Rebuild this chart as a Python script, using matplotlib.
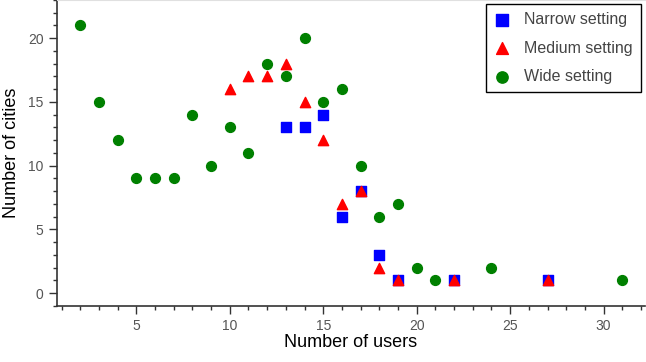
import matplotlib.pyplot as plt
from matplotlib.ticker import MultipleLocator

plt.rcParams['font.family'] = ['Liberation Sans', 'DejaVu Sans']

narrow_x = [13, 14, 15, 16, 17, 18, 19, 22, 27]
narrow_y = [13, 13, 14, 6, 8, 3, 1, 1, 1]

medium_x = [10, 11, 12, 13, 14, 15, 16, 17, 18, 19, 22, 27]
medium_y = [16, 17, 17, 18, 15, 12, 7, 8, 2, 1, 1, 1]

wide_x = [2, 3, 4, 5, 6, 7, 8, 9, 10, 11, 12, 13, 14, 15, 16, 17, 18, 19, 20, 21, 24, 31]
wide_y = [21, 15, 12, 9, 9, 9, 14, 10, 13, 11, 18, 17, 20, 15, 16, 10, 6, 7, 2, 1, 2, 1]


def main():
    fig = plt.figure(figsize=(6.46, 3.62), dpi=100)
    ax = fig.add_axes([0.088, 0.155, 0.91, 0.845])

    ax.scatter(narrow_x, narrow_y, marker='s', s=55, color='#0000ff', label='Narrow setting', zorder=3)
    ax.scatter(medium_x, medium_y, marker='^', s=55, color='#ff0000', label='Medium setting', zorder=4)
    ax.scatter(wide_x, wide_y, marker='o', s=50, color='#008000', label='Wide setting', zorder=5)

    ax.set_xlim(0.75, 32.2)
    ax.set_ylim(-1, 23)
    ax.xaxis.set_major_locator(MultipleLocator(5))
    ax.xaxis.set_minor_locator(MultipleLocator(1))
    ax.yaxis.set_major_locator(MultipleLocator(5))
    ax.yaxis.set_minor_locator(MultipleLocator(1))

    ax.spines['right'].set_visible(False)
    ax.spines['top'].set_color('#e0e0e0')
    ax.spines['left'].set_color('#333333')
    ax.spines['bottom'].set_color('#333333')
    ax.spines['left'].set_linewidth(1.2)
    ax.spines['bottom'].set_linewidth(1.2)

    ax.tick_params(which='major', length=6, width=1, color='#333333', labelcolor='#555555', labelsize=10)
    ax.tick_params(which='minor', length=3, width=1, color='#333333')

    ax.set_xlabel('Number of users', fontsize=13, labelpad=1)
    ax.set_ylabel('Number of cities', fontsize=13, labelpad=6)

    leg = ax.legend(loc='upper right', bbox_to_anchor=(0.993, 0.987), borderaxespad=0,
                    fancybox=False, edgecolor='black', fontsize=11.5, handlelength=1.0,
                    handletextpad=0.9, labelspacing=0.85, borderpad=0.5, markerscale=1.15)
    leg.get_frame().set_linewidth(1)
    leg.get_frame().set_alpha(1)
    for t in leg.get_texts():
        t.set_color('#444444')

    fig.savefig('out.png', dpi=100)


if __name__ == "__main__":
    main()
